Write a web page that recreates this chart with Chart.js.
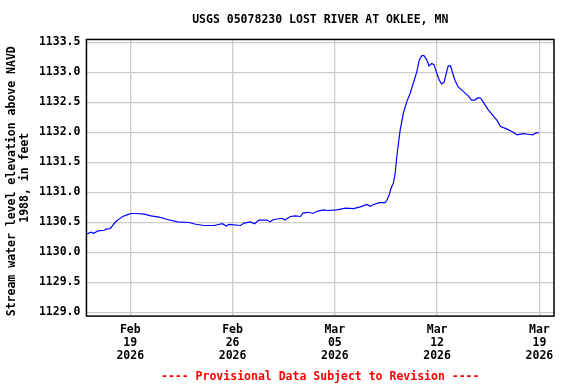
<!DOCTYPE html>
<html>
<head>
<meta charset="utf-8">
<script src="https://cdn.jsdelivr.net/npm/chart.js@4/dist/chart.umd.min.js"></script>
<style>
  body { margin: 0; background: #fff; }
</style>
</head>
<body>
<canvas id="myChart" width="576" height="384"></canvas>
<script>
// days since Feb 16 2026 00:00
let days = [0.05, 0.32, 0.50, 0.78, 1.23, 1.34, 1.64, 1.80, 2.03, 2.25, 2.48, 2.82, 3.05, 3.39, 3.96,
  4.41, 4.98, 5.55, 6.23, 7.03, 7.48, 8.05, 8.73, 9.30, 9.58, 9.75, 10.55, 10.78, 11.23, 11.51,
  11.80, 12.37, 12.55, 12.82, 13.40, 13.57, 13.96, 14.30, 14.65, 14.83, 15.21, 15.48, 15.83, 16.23,
  16.47, 17.15, 17.72, 18.28, 18.74, 19.19, 19.42, 19.65, 20.05, 20.44, 20.56, 20.72, 20.85, 21.01,
  21.13, 21.24, 21.47, 21.69, 21.92, 22.15, 22.37, 22.61, 22.78, 22.95, 23.10, 23.29, 23.45, 23.63,
  23.79, 23.97, 24.15, 24.31, 24.47, 24.65, 24.76, 24.92, 25.06, 25.22, 25.44, 25.68, 25.90, 26.13,
  26.36, 26.58, 26.81, 26.99, 27.20, 27.49, 27.83, 28.10, 28.34, 28.75, 29.09, 29.47, 29.88, 30.22,
  30.56, 30.74, 30.97];
let stage = [1130.31, 1130.34, 1130.32, 1130.36, 1130.37, 1130.39, 1130.40, 1130.45, 1130.52, 1130.56,
  1130.60, 1130.63, 1130.65, 1130.65, 1130.64, 1130.61, 1130.59, 1130.55, 1130.51, 1130.50, 1130.47,
  1130.45, 1130.45, 1130.48, 1130.44, 1130.47, 1130.45, 1130.49, 1130.51, 1130.48, 1130.54, 1130.54,
  1130.51, 1130.55, 1130.57, 1130.54, 1130.60, 1130.61, 1130.60, 1130.66, 1130.67, 1130.65, 1130.69,
  1130.71, 1130.70, 1130.71, 1130.74, 1130.73, 1130.76, 1130.80, 1130.77, 1130.80, 1130.83, 1130.83,
  1130.87, 1130.96, 1131.07, 1131.16, 1131.32, 1131.60, 1132.04, 1132.32, 1132.51, 1132.65, 1132.82,
  1133.01, 1133.21, 1133.28, 1133.28, 1133.21, 1133.11, 1133.15, 1133.13, 1132.99, 1132.87, 1132.81,
  1132.83, 1133.01, 1133.11, 1133.11, 1132.99, 1132.87, 1132.76, 1132.71, 1132.66, 1132.61, 1132.54,
  1132.54, 1132.58, 1132.57, 1132.49, 1132.38, 1132.28, 1132.20, 1132.10, 1132.06, 1132.02, 1131.96,
  1131.98, 1131.97, 1131.96, 1131.99, 1132.00];

let xTickDays = [3, 10, 17, 24, 31];
let xTickLabels = [['Feb', '19', '2026'], ['Feb', '26', '2026'], ['Mar', '05', '2026'], ['Mar', '12', '2026'], ['Mar', '19', '2026']];
let yTicks = [1129.0, 1129.5, 1130.0, 1130.5, 1131.0, 1131.5, 1132.0, 1132.5, 1133.0, 1133.5];

let font = { family: 'DejaVu Sans Mono', size: 11.5, weight: 'bold', lineHeight: 1.17 };
let xFont = { family: 'DejaVu Sans Mono', size: 11.5, weight: 'bold', lineHeight: 1.1 };

// box around the plot
let frame = {
  id: 'frame',
  afterDraw(chart) {
    let a = chart.chartArea;
    let ctx = chart.ctx;
    ctx.save();
    ctx.strokeStyle = '#000';
    ctx.lineWidth = 1.5;
    ctx.strokeRect(a.left, a.top, a.right - a.left, a.bottom - a.top);
    ctx.restore();
  }
};

let myChart = document.getElementById('myChart').getContext('2d');
let chart = new Chart(myChart, {
  type: 'line',
  data: {
    datasets: [{
      data: days.map((d, i) => ({ x: d, y: stage[i] })),
      borderColor: '#0000ff',
      borderWidth: 1.2,
      pointRadius: 0,
      tension: 0,
    }]
  },
  options: {
    responsive: false,
    animation: false,
    devicePixelRatio: 1,
    layout: { padding: { left: 4, right: 22, top: 0, bottom: 0.5 } },
    plugins: {
      legend: { display: false },
      tooltip: { enabled: false },
      title: {
        display: true,
        fullSize: false,
        text: 'USGS 05078230 LOST RIVER AT OKLEE, MN',
        color: '#000',
        font: font,
        padding: { top: 13, bottom: 13 }
      },
      subtitle: {
        display: true,
        fullSize: false,
        position: 'bottom',
        text: '---- Provisional Data Subject to Revision ----',
        color: '#ff0000',
        font: font,
        padding: { top: 0, bottom: 0 }
      }
    },
    scales: {
      x: {
        type: 'linear',
        min: 0,
        max: 32,
        afterBuildTicks: (axis) => { axis.ticks = xTickDays.map((v) => ({ value: v })); },
        ticks: {
          color: '#000',
          font: xFont,
          padding: 8,
          maxRotation: 0,
          autoSkip: false,
          callback: (v) => xTickLabels[xTickDays.indexOf(v)]
        },
        grid: { color: '#cccccc', lineWidth: 1.3, drawTicks: false },
        border: { display: false }
      },
      y: {
        type: 'linear',
        min: 1128.94,
        max: 1133.55,
        afterBuildTicks: (axis) => { axis.ticks = yTicks.map((v) => ({ value: v })); },
        ticks: {
          color: '#000',
          font: font,
          padding: 6,
          autoSkip: false,
          callback: (v) => v.toFixed(1)
        },
        grid: { color: '#cccccc', lineWidth: 1.3, drawTicks: false },
        border: { display: false },
        title: {
          display: true,
          text: ['Stream water level elevation above NAVD ', '1988, in feet'],
          color: '#000',
          font: font,
          padding: { top: 1, bottom: 1 }
        }
      }
    }
  },
  plugins: [frame]
});
</script>
</body>
</html>
